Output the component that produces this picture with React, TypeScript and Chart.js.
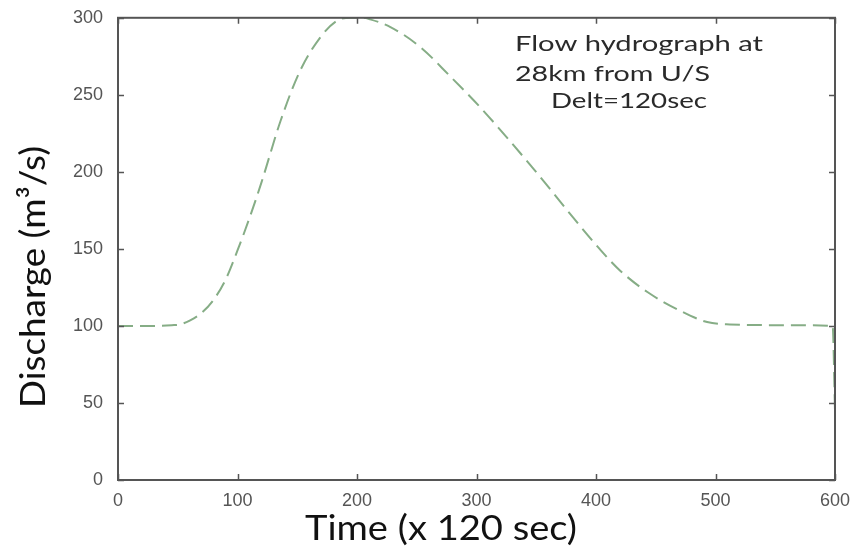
import React, { useEffect, useRef } from "react";
import { Chart, registerables } from "chart.js";

Chart.register(...registerables);

const timeSteps = [0, 30, 45, 52, 60, 70, 80, 90, 100, 110, 120, 136, 152, 169, 183, 195, 205, 211, 228, 253, 278, 303, 328, 353, 378, 403, 420, 443, 470, 493, 512, 554, 598, 600];
const discharge = [100, 100, 100.5, 101, 103.5, 108.5, 117, 130, 149, 170, 193, 233, 265, 287, 298, 300, 300, 299, 294, 281, 262, 242, 220, 197, 173, 150, 136, 122, 110, 102.5, 101, 100.5, 100, 45];
const xTicks = [0, 100, 200, 300, 400, 500, 600];
const yTicks = [0, 50, 100, 150, 200, 250, 300];
const annotationLines = ["Flow hydrograph at", "28km from U/S", "Delt=120sec"];
const xTitle = "Time (x 120 sec)";
const yTitle = "Discharge (m³/s)";

function fitText(ctx: any, text: string, x: number, y: number, width: number, align: "left" | "center") {
  const w = ctx.measureText(text).width;
  const sx = width / w;
  ctx.save();
  ctx.translate(x, y);
  ctx.scale(sx, 1);
  ctx.textAlign = align;
  ctx.fillText(text, 0, 0);
  ctx.restore();
}

const framePlugin = {
  id: "frame",
  afterDraw(chart: any) {
    const { ctx, chartArea: a, scales } = chart;
    const xs = scales.x;
    const ys = scales.y;
    ctx.save();
    ctx.strokeStyle = "#555";
    ctx.lineWidth = 2;
    ctx.strokeRect(a.left, a.top, a.right - a.left, a.bottom - a.top);
    ctx.lineWidth = 1.5;
    const t = 6;
    xTicks.forEach((v) => {
      const px = Math.round(xs.getPixelForValue(v)) + 0.5;
      ctx.beginPath();
      ctx.moveTo(px, a.bottom);
      ctx.lineTo(px, a.bottom - t);
      ctx.moveTo(px, a.top);
      ctx.lineTo(px, a.top + t);
      ctx.stroke();
    });
    yTicks.forEach((v) => {
      const py = Math.round(ys.getPixelForValue(v)) + 0.5;
      ctx.beginPath();
      ctx.moveTo(a.left, py);
      ctx.lineTo(a.left + t, py);
      ctx.moveTo(a.right, py);
      ctx.lineTo(a.right - t, py);
      ctx.stroke();
    });
    ctx.textBaseline = "alphabetic";
    ctx.fillStyle = "#2a2a2a";
    ctx.font = "21px Lato";
    fitText(ctx, annotationLines[0], 515, 51, 248, "left");
    fitText(ctx, annotationLines[1], 515, 81, 195, "left");
    fitText(ctx, annotationLines[2], 551, 108, 156, "left");
    ctx.fillStyle = "#111";
    ctx.font = "35px Lato";
    fitText(ctx, xTitle, 441, 540, 272, "center");
    ctx.translate(45, 277);
    ctx.rotate(-Math.PI / 2);
    fitText(ctx, yTitle, 0, 0, 262, "center");
    ctx.restore();
  },
};

export default function App() {
  const ref = useRef<HTMLCanvasElement>(null);
  useEffect(() => {
    if (!ref.current) return;
    const chart = new Chart(ref.current, {
      type: "line",
      data: {
        datasets: [
          {
            data: timeSteps.map((t, i) => ({ x: t, y: discharge[i] })),
            borderColor: "#86ad86",
            borderWidth: 2,
            borderDash: [15, 7],
            pointRadius: 0,
            cubicInterpolationMode: "monotone",
            fill: false,
          },
        ],
      },
      options: {
        responsive: false,
        animation: false,
        layout: { padding: { top: 17, right: 19, left: 0, bottom: 0 } },
        plugins: { legend: { display: false }, tooltip: { enabled: false } },
        scales: {
          x: {
            type: "linear",
            min: 0,
            max: 600,
            afterBuildTicks: (s: any) => {
              s.ticks = xTicks.map((v) => ({ value: v }));
            },
            afterFit: (s: any) => {
              s.height = 66;
            },
            grid: { display: false },
            border: { display: false },
            ticks: { color: "#555", font: { family: "Liberation Sans", size: 18 }, padding: 2, maxRotation: 0 },
          },
          y: {
            min: 0,
            max: 300,
            afterBuildTicks: (s: any) => {
              s.ticks = yTicks.map((v) => ({ value: v }));
            },
            afterFit: (s: any) => {
              s.width = 118;
            },
            grid: { display: false },
            border: { display: false },
            ticks: { color: "#555", font: { family: "Liberation Sans", size: 18 }, padding: 7 },
          },
        },
      },
      plugins: [framePlugin],
    } as any);
    return () => chart.destroy();
  }, []);
  return (
    <div style={{ position: "absolute", left: 0, top: 0, width: 854, height: 546, background: "#fff" }}>
      <canvas ref={ref} width={854} height={546} />
    </div>
  );
}
